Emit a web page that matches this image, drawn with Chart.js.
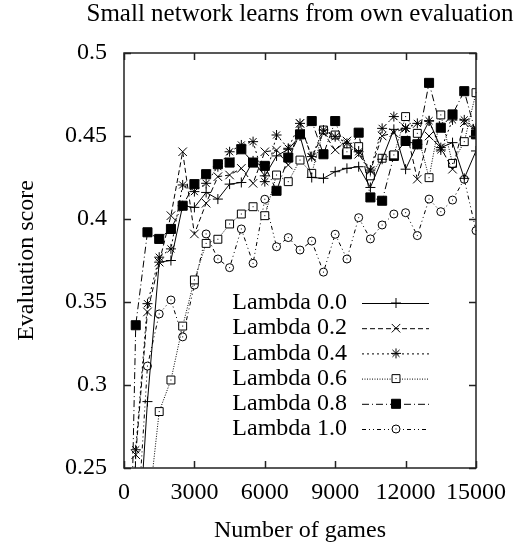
<!DOCTYPE html>
<html>
<head>
<meta charset="utf-8">
<script src="https://cdn.jsdelivr.net/npm/chart.js@4/dist/chart.umd.min.js"></script>
<style>
html,body{margin:0;padding:0;background:#fff;}
#wrap{width:519px;height:544px;}
</style>
</head>
<body>
<div id="wrap"><canvas id="c" width="519" height="544"></canvas></div>
<script>
const titleText = "Small network learns from own evaluation";
const xTitle = "Number of games";
const yTitle = "Evaluation score";
const games = [0,500,1000,1500,2000,2500,3000,3500,4000,4500,5000,5500,6000,6500,7000,7500,8000,8500,9000,9500,10000,10500,11000,11500,12000,12500,13000,13500,14000,14500,15000];
const xTicks = [0,3000,6000,9000,12000,15000];
const xTickLabels = ["0","3000","6000","9000","12000","15000"];
const yTicks = [0.25,0.3,0.35,0.4,0.45,0.5];
const yTickLabels = ["0.25","0.3","0.35","0.4","0.45","0.5"];
const seriesNames = ["Lambda 0.0","Lambda 0.2","Lambda 0.4","Lambda 0.6","Lambda 0.8","Lambda 1.0"];
const lambda00 = [0.0,0.18,0.29,0.374,0.375,0.408,0.407,0.416,0.412,0.421,0.422,0.435,0.426,0.438,0.442,0.450,0.425,0.4245,0.4285,0.4305,0.4315,0.419,0.436,0.454,0.430,0.445,0.459,0.443,0.446,0.4245,0.441];
const lambda02 = [0.0,0.258,0.344,0.374,0.402,0.4405,0.391,0.4095,0.4255,0.4265,0.4305,0.4215,0.4405,0.4415,0.4325,0.4576,0.437,0.452,0.4416,0.447,0.439,0.429,0.450,0.452,0.455,0.424,0.450,0.443,0.430,0.458,0.454];
const lambda04 = [0.0,0.261,0.349,0.377,0.382,0.4205,0.4165,0.4215,0.4315,0.4405,0.4446,0.4466,0.4225,0.4506,0.4426,0.4576,0.4376,0.4536,0.4496,0.4456,0.4405,0.4295,0.4546,0.4617,0.4546,0.4576,0.4592,0.4416,0.4597,0.4597,0.4546];
const lambda06 = [0.0,0.15,0.22,0.284,0.303,0.3355,0.3633,0.3853,0.3878,0.397,0.403,0.4074,0.402,0.4265,0.4225,0.4355,0.4275,0.4536,0.4506,0.4405,0.4436,0.426,0.4366,0.4386,0.4617,0.4516,0.4249,0.4627,0.4335,0.4466,0.4761];
const lambda08 = [0.0,0.336,0.392,0.388,0.394,0.408,0.421,0.427,0.433,0.434,0.442,0.434,0.432,0.417,0.437,0.451,0.459,0.439,0.459,0.439,0.452,0.413,0.411,0.438,0.447,0.445,0.482,0.455,0.463,0.477,0.451];
const lambda10 = [0.0,0.2,0.3114,0.3428,0.3512,0.329,0.3602,0.391,0.3759,0.3707,0.394,0.3733,0.4119,0.3833,0.3888,0.3813,0.3867,0.368,0.3908,0.3759,0.4008,0.388,0.3964,0.403,0.4038,0.39,0.412,0.4044,0.4114,0.4239,0.393];

const FONT = "'Liberation Serif', 'Times New Roman', serif";
const INK = '#000';
const styles = [
  {dash: [], pointStyle: 'cross', radius: 5, fill: INK},
  {dash: [5,3], pointStyle: 'crossRot', radius: 6, fill: INK},
  {dash: [2,3], pointStyle: 'star', radius: 5, fill: INK},
  {dash: [1,1.5], pointStyle: 'rect', radius: 5.6, fill: '#fff'},
  {dash: [7,3,1,3], pointStyle: 'rect', radius: 6.4, fill: INK},
  {dash: [4,3,1,3,1,3], pointStyle: 'circle', radius: 4, fill: '#fff'}
];
const allSeries = [lambda00, lambda02, lambda04, lambda06, lambda08, lambda10];

const datasets = allSeries.map((vals, i) => ({
  label: seriesNames[i],
  data: games.map((g, j) => ({x: g, y: vals[j]})),
  borderColor: INK,
  borderWidth: 1,
  borderDash: styles[i].dash,
  pointStyle: styles[i].pointStyle,
  pointRadius: styles[i].radius,
  pointBorderColor: INK,
  pointBorderWidth: 1,
  pointBackgroundColor: styles[i].fill,
  tension: 0,
  fill: false
}));

function isOpen(ds) { return ds.pointStyle === 'circle' || (ds.pointStyle === 'rect' && ds.pointBackgroundColor === '#fff'); }

const frame = {
  id: 'frame',
  afterDraw(chart) {
    const {ctx, chartArea: a, scales} = chart;
    ctx.save();
    ctx.strokeStyle = '#222';
    ctx.lineWidth = 1.5;
    ctx.setLineDash([]);
    const L = 7;
    ctx.beginPath();
    xTicks.forEach(v => {
      const px = Math.round(scales.x.getPixelForValue(v)) + 0.5;
      ctx.moveTo(px, a.bottom); ctx.lineTo(px, a.bottom - L);
      ctx.moveTo(px, a.top); ctx.lineTo(px, a.top + L);
    });
    yTicks.forEach(v => {
      const py = Math.round(scales.y.getPixelForValue(v)) + 0.5;
      ctx.moveTo(a.left, py); ctx.lineTo(a.left + L, py);
      ctx.moveTo(a.right, py); ctx.lineTo(a.right - L, py);
    });
    ctx.stroke();
    ctx.strokeRect(a.left, a.top, a.right - a.left, a.bottom - a.top);
    // title
    ctx.fillStyle = INK;
    ctx.font = "25px " + FONT;
    ctx.textAlign = 'center';
    ctx.textBaseline = 'middle';
    ctx.fillText(titleText, (a.left + a.right) / 2, 14);
    // legend
    ctx.font = "24px " + FONT;
    const lx = 347, sx1 = 362, sx2 = 429, mx = 396;
    chart.data.datasets.forEach((ds, i) => {
      const y = 303 + i * 25.2;
      ctx.textAlign = 'right';
      ctx.fillStyle = INK;
      ctx.fillText(ds.label, lx, y);
      ctx.beginPath();
      ctx.lineWidth = 1;
      ctx.strokeStyle = INK;
      ctx.setLineDash(ds.borderDash);
      ctx.moveTo(sx1, y + 0.5); ctx.lineTo(sx2, y + 0.5);
      ctx.stroke();
      ctx.setLineDash([]);
      ctx.fillStyle = ds.pointBackgroundColor;
      Chart.helpers.drawPoint(ctx, {pointStyle: ds.pointStyle, radius: ds.pointRadius, borderWidth: 1, rotation: 0}, mx, y);
      if (isOpen(ds)) { ctx.fillStyle = INK; ctx.fillRect(mx - 0.5, y - 0.5, 1, 1); }
    });
    ctx.restore();
  },
  afterDatasetsDraw(chart) {
    const {ctx} = chart;
    ctx.save();
    ctx.fillStyle = INK;
    const a = chart.chartArea;
    chart.data.datasets.forEach((ds, i) => {
      if (!isOpen(ds)) return;
      chart.getDatasetMeta(i).data.forEach(pt => {
        if (pt.y < a.top || pt.y > a.bottom) return;
        ctx.fillRect(pt.x - 0.5, pt.y - 0.5, 1, 1);
      });
    });
    ctx.restore();
  }
};

new Chart(document.getElementById('c'), {
  type: 'line',
  data: {datasets},
  options: {
    responsive: false,
    animation: false,
    devicePixelRatio: 1,
    layout: {padding: {left: 0, right: 37, top: 53, bottom: 0}},
    plugins: {legend: {display: false}, tooltip: {enabled: false}, title: {display: false}},
    scales: {
      x: {
        type: 'linear', min: 0, max: 15000,
        afterBuildTicks(s) { s.ticks = xTicks.map(v => ({value: v})); },
        afterFit(s) { s.height = 76; },
        grid: {display: false, drawTicks: false},
        border: {display: false},
        ticks: {color: INK, font: {family: FONT, size: 24, lineHeight: 1}, padding: 13, maxRotation: 0, autoSkip: false,
          callback: (v) => { const k = xTicks.indexOf(v); return k >= 0 ? xTickLabels[k] : ''; }},
        title: {display: true, text: xTitle, color: INK, font: {family: FONT, size: 24, lineHeight: 1}, padding: {top: 0, bottom: 1}}
      },
      y: {
        type: 'linear', min: 0.25, max: 0.5,
        afterBuildTicks(s) { s.ticks = yTicks.map(v => ({value: v})); },
        afterFit(s) { s.width = 124; },
        grid: {display: false, drawTicks: false},
        border: {display: false},
        ticks: {color: INK, font: {family: FONT, size: 24, lineHeight: 1}, padding: 17, autoSkip: false,
          callback: (v) => { const k = yTicks.findIndex(t => Math.abs(t - v) < 1e-9); return k >= 0 ? yTickLabels[k] : ''; }},
        title: {display: true, text: yTitle, color: INK, font: {family: FONT, size: 24, lineHeight: 1}, padding: {top: 15, bottom: 0}}
      }
    }
  },
  plugins: [frame]
});
</script>
</body>
</html>
